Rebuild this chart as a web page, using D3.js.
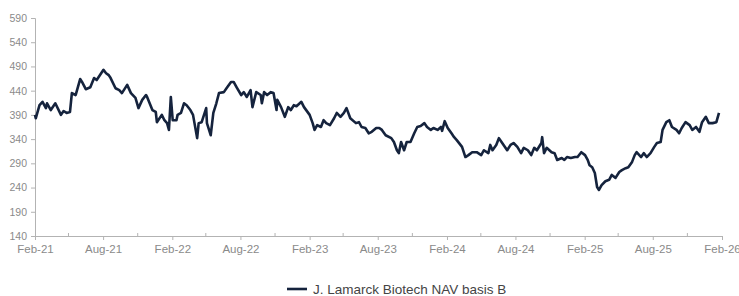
<!DOCTYPE html>
<html>
<head>
<meta charset="utf-8">
<script src="https://cdn.jsdelivr.net/npm/d3@7"></script>
<style>
  body { margin: 0; background: #fff; }
  svg { display: block; font-family: "Liberation Sans", Arial, sans-serif; }
</style>
</head>
<body>
<div class="navChart"></div>
<script>
var width = 739;
var height = 296;

var seriesName = "J. Lamarck Biotech NAV basis B";

var yTicks = [140, 190, 240, 290, 340, 390, 440, 490, 540, 590];

// roughly every week or so
var navDates = [
  "2021-02-01","2021-02-03","2021-02-13","2021-02-21","2021-03-02","2021-03-05","2021-03-15","2021-03-27",
  "2021-04-11","2021-04-18","2021-04-26","2021-05-05","2021-05-10","2021-05-20","2021-06-01","2021-06-06",
  "2021-06-16","2021-06-28","2021-07-08","2021-07-15","2021-08-02","2021-08-09","2021-08-16","2021-08-21",
  "2021-09-03","2021-09-13","2021-09-20","2021-10-04","2021-10-14","2021-10-26","2021-11-03","2021-11-13",
  "2021-11-23","2021-11-26","2021-12-10","2021-12-19","2021-12-22","2022-01-04","2022-01-11","2022-01-18",
  "2022-01-23","2022-01-28","2022-02-02","2022-02-12","2022-02-15","2022-02-24","2022-03-04","2022-03-11",
  "2022-03-21","2022-03-28","2022-04-08","2022-04-12","2022-04-20","2022-05-02","2022-05-04","2022-05-14",
  "2022-05-21","2022-05-29","2022-06-05","2022-06-18","2022-06-25","2022-07-07","2022-07-14","2022-07-22",
  "2022-08-03","2022-08-10","2022-08-18","2022-08-28","2022-09-02","2022-09-12","2022-09-24","2022-09-27",
  "2022-10-03","2022-10-11","2022-10-21","2022-10-28","2022-11-05","2022-11-07","2022-11-17","2022-11-27",
  "2022-12-06","2022-12-13","2022-12-21","2022-12-28","2023-01-10","2023-01-17","2023-02-01","2023-02-09",
  "2023-02-14","2023-02-21","2023-03-03","2023-03-10","2023-03-17","2023-03-27","2023-04-07","2023-04-14",
  "2023-04-24","2023-05-03","2023-05-10","2023-05-20","2023-06-04","2023-06-12","2023-06-19","2023-06-29",
  "2023-07-08","2023-07-16","2023-07-28","2023-08-05","2023-08-12","2023-08-22","2023-09-06","2023-09-13",
  "2023-09-21","2023-09-26","2023-10-02","2023-10-10","2023-10-17","2023-10-27","2023-11-06","2023-11-14",
  "2023-11-23","2023-12-03","2023-12-10","2023-12-20","2023-12-27","2024-01-07","2024-01-16","2024-01-19",
  "2024-01-26","2024-02-03","2024-02-13","2024-02-20","2024-02-27","2024-03-12","2024-03-21","2024-03-29",
  "2024-04-08","2024-04-20","2024-05-02","2024-05-09","2024-05-21","2024-05-26","2024-06-01","2024-06-11",
  "2024-06-18","2024-06-25","2024-07-10","2024-07-19","2024-07-27","2024-08-06","2024-08-16","2024-08-23",
  "2024-09-03","2024-09-12","2024-09-20","2024-09-27","2024-10-09","2024-10-11","2024-10-16","2024-10-23",
  "2024-11-05","2024-11-13","2024-11-20","2024-12-02","2024-12-09","2024-12-16","2024-12-26","2025-01-06",
  "2025-01-13","2025-01-23","2025-02-02","2025-02-09","2025-02-14","2025-02-21","2025-02-28","2025-03-06",
  "2025-03-11","2025-03-18","2025-03-28","2025-04-07","2025-04-14","2025-04-24","2025-05-04","2025-05-11",
  "2025-05-21","2025-05-28","2025-06-07","2025-06-14","2025-06-19","2025-07-01","2025-07-08","2025-07-16",
  "2025-07-26","2025-08-05","2025-08-12","2025-08-22","2025-08-27","2025-09-06","2025-09-14","2025-09-21",
  "2025-10-03","2025-10-10","2025-10-17","2025-10-27","2025-11-07","2025-11-14","2025-11-24","2025-12-03",
  "2025-12-10","2025-12-20","2025-12-28","2026-01-07","2026-01-17","2026-01-24"
];

var navValues = [
  390, 383, 410, 417, 404, 414, 400, 414,
  390, 398, 394, 396, 435, 431, 464, 458,
  443, 447, 466, 462, 483, 476, 472, 466,
  445, 441, 435, 452, 435, 425, 404, 421,
  431, 427, 400, 396, 375, 390, 379, 373,
  359, 427, 379, 379, 390, 394, 414, 410,
  400, 390, 342, 373, 375, 404, 373, 348,
  394, 414, 435, 437, 445, 458, 458, 447,
  431, 437, 427, 441, 406, 437, 431, 414,
  437, 431, 437, 435, 400, 421, 406, 386,
  406, 400, 410, 408, 417, 406, 390, 373,
  359, 369, 365, 379, 373, 369, 383, 394,
  386, 394, 404, 383, 373, 375, 365, 363,
  352, 355, 363, 363, 359, 348, 342, 334,
  317, 311, 334, 317, 334, 334, 352, 365,
  367, 373, 365, 359, 363, 359, 365, 357,
  377, 363, 352, 344, 338, 324, 303, 307,
  313, 313, 307, 317, 311, 328, 317, 328,
  342, 334, 317, 328, 332, 324, 311, 322,
  317, 307, 322, 317, 332, 344, 311, 322,
  313, 311, 297, 301, 297, 303, 301, 303,
  303, 313, 307, 297, 286, 282, 270, 241,
  235, 245, 253, 256, 266, 260, 272, 276,
  280, 282, 293, 307, 313, 303, 311, 303,
  311, 324, 332, 334, 359, 375, 379, 365,
  359, 352, 363, 375, 369, 359, 365, 355,
  375, 386, 373, 373, 375, 394
];

var parseDate = d3.timeParse("%Y-%m-%d");
var data = navDates.map(function(d, i) {
  return { date: parseDate(d), value: navValues[i] };
});

var plotLeft = 35, plotRight = 722, plotTop = 18, plotBottom = 236;

var x = d3.scaleTime()
  .domain([new Date(2021, 1, 1), new Date(2026, 1, 1)])
  .range([plotLeft, plotRight]);

var y = d3.scaleLinear()
  .domain([140, 590])
  .range([plotBottom, plotTop]);

var svg = d3.select(".navChart")
  .append("svg")
  .attr("width", width)
  .attr("height", height);

var axisColor = "#b3b3b3";
var labelColor = "#8a8a8a";

// y axis
var yAxis = svg.append("g")
  .attr("transform", "translate(" + plotLeft + ",0)")
  .call(d3.axisLeft(y).tickValues(yTicks).tickSize(4).tickPadding(4));

yAxis.select(".domain").attr("stroke", axisColor);
yAxis.selectAll(".tick line").attr("stroke", axisColor);
yAxis.selectAll(".tick text")
  .attr("fill", labelColor)
  .style("font-size", "10.5px");

// x axis: every 3 months, labels on every 6
var tickDates = d3.timeMonth.range(new Date(2021, 1, 1), new Date(2026, 1, 2), 3);
var majorDates = tickDates.filter(function(d, i) { return i % 2 === 0; });
var minorDates = tickDates.filter(function(d, i) { return i % 2 === 1; });

var xAxis = svg.append("g")
  .attr("transform", "translate(0," + plotBottom + ")")
  .call(d3.axisBottom(x).tickValues(majorDates).tickSize(4).tickPadding(5)
    .tickFormat(d3.timeFormat("%b-%y")));

xAxis.select(".domain").attr("stroke", axisColor);
xAxis.selectAll(".tick line").attr("stroke", axisColor);
xAxis.selectAll(".tick text")
  .attr("fill", labelColor)
  .style("font-size", "11.5px");

xAxis.selectAll(".minor")
  .data(minorDates)
  .enter().append("line")
  .attr("class", "minor")
  .attr("x1", function(d) { return x(d); })
  .attr("x2", function(d) { return x(d); })
  .attr("y1", 0)
  .attr("y2", -3)
  .attr("stroke", axisColor);

// the NAV line
var line = d3.line()
  .x(function(d) { return x(d.date); })
  .y(function(d) { return y(d.value); });

svg.append("path")
  .datum(data)
  .attr("d", line)
  .attr("fill", "none")
  .attr("stroke", "#15233d")
  .attr("stroke-width", 2.6)
  .attr("stroke-linejoin", "round");

// legend
var legend = svg.append("g")
  .attr("transform", "translate(287,289)");

legend.append("line")
  .attr("x1", 0).attr("x2", 20)
  .attr("y1", 0).attr("y2", 0)
  .attr("stroke", "#15233d")
  .attr("stroke-width", 2.6);

legend.append("text")
  .attr("x", 26)
  .attr("y", 5)
  .attr("fill", "#444")
  .style("font-size", "13.5px")
  .text(seriesName);
</script>
</body>
</html>
